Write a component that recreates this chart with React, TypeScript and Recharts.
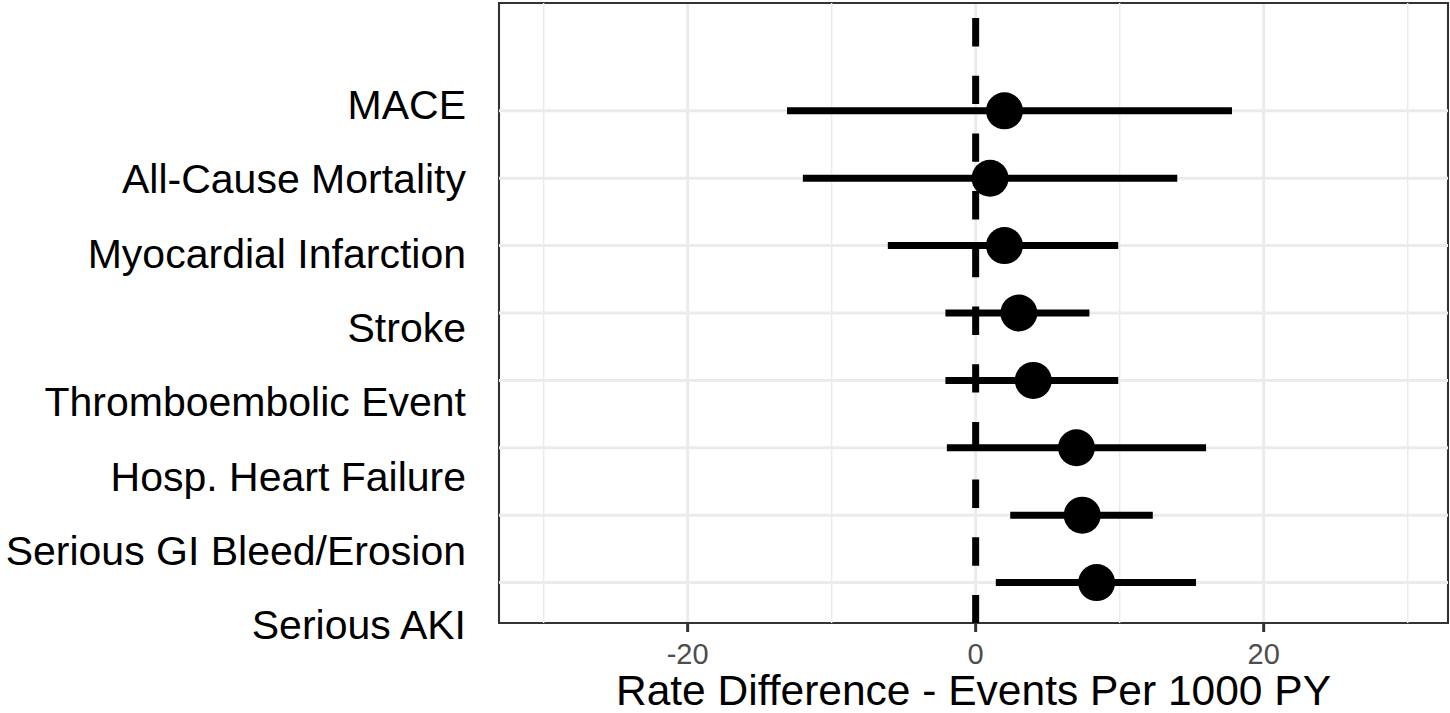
import React from 'react';
import {
  ScatterChart,
  Scatter,
  XAxis,
  YAxis,
  CartesianGrid,
  ErrorBar,
  ReferenceLine,
  ReferenceArea,
  Label,
} from 'recharts';

const outcomes = [
  'MACE',
  'All-Cause Mortality',
  'Myocardial Infarction',
  'Stroke',
  'Thromboembolic Event',
  'Hosp. Heart Failure',
  'Serious GI Bleed/Erosion',
  'Serious AKI',
];
const estimates = [2.0, 1.0, 2.0, 3.0, 4.0, 7.0, 7.4, 8.4];
const lowerCI = [-13.1, -12.0, -6.1, -2.1, -2.1, -2.0, 2.4, 1.4];
const upperCI = [17.8, 14.0, 9.9, 7.9, 9.9, 16.0, 12.3, 15.3];

const xTicks = [-20, 0, 20];
const minorXTicks = [-30, -10, 10, 30];
const rowTicks = [1, 2, 3, 4, 5, 6, 7, 8];

const X_DOMAIN: [number, number] = [-33.1, 32.8];
const Y_DOMAIN: [number, number] = [0.4, 9.6];
// labels in the original sit on a slightly wider spacing than the rows
const LABEL_DOMAIN: [number, number] = [1.024, 9.364];

const FONT = '"Liberation Sans", Arial, sans-serif';

const data = outcomes.map((name, i) => ({
  name,
  row: outcomes.length - i,
  est: estimates[i],
  ci: [estimates[i] - lowerCI[i], upperCI[i] - estimates[i]],
}));

const Dot = (props: any) => <circle cx={props.cx} cy={props.cy} r={18.5} fill="#000" />;

export default function App() {
  return (
    <div style={{ position: 'absolute', left: 0, top: 0, fontFamily: FONT }}>
      <ScatterChart width={1450} height={713} margin={{ top: 3, right: 2, left: 0, bottom: 0 }}>
        <CartesianGrid stroke="#EBEBEB" strokeWidth={3} horizontal={false} />
        {minorXTicks.map((v) => (
          <ReferenceLine key={v} x={v} stroke="#EBEBEB" strokeWidth={1.5} />
        ))}
        {rowTicks.map((v) => (
          <ReferenceLine key={'r' + v} y={v} stroke="#EBEBEB" strokeWidth={3} />
        ))}
        <XAxis
          type="number"
          dataKey="est"
          domain={X_DOMAIN}
          ticks={xTicks}
          allowDataOverflow
          axisLine={false}
          tickLine={{ stroke: '#333333', strokeWidth: 3 }}
          tickSize={9}
          tickMargin={11}
          height={90}
          tick={{ fill: '#4D4D4D', fontSize: 29, fontFamily: FONT }}
        >
          <Label
            value="Rate Difference - Events Per 1000 PY"
            position="insideBottom"
            offset={8}
            style={{ fill: '#000', fontSize: 42.5, fontFamily: FONT }}
          />
        </XAxis>
        <YAxis
          type="number"
          dataKey="row"
          domain={Y_DOMAIN}
          ticks={rowTicks}
          allowDataOverflow
          axisLine={false}
          tick={false}
          tickLine={{ stroke: '#333333', strokeWidth: 3 }}
          tickSize={10}
          width={12}
        />
        <YAxis
          yAxisId="labels"
          type="number"
          domain={LABEL_DOMAIN}
          ticks={rowTicks}
          interval={0}
          allowDataOverflow
          axisLine={false}
          tickLine={false}
          tickSize={0}
          tickMargin={21}
          width={487}
          tickFormatter={(v: number) => outcomes[outcomes.length - v]}
          tick={{ fill: '#000', fontSize: 41, fontFamily: FONT }}
        />
        <ReferenceLine
          segment={[
            { x: 0, y: Y_DOMAIN[1] },
            { x: 0, y: Y_DOMAIN[0] },
          ]}
          stroke="#000"
          strokeWidth={7}
          strokeDasharray="28.4 29.3"
          strokeDashoffset={42.7}
        />
        <Scatter data={data} shape={Dot} isAnimationActive={false}>
          <ErrorBar dataKey="ci" direction="x" width={0} stroke="#000" strokeWidth={7} />
        </Scatter>
        <ReferenceArea
          x1={X_DOMAIN[0]}
          x2={X_DOMAIN[1]}
          y1={Y_DOMAIN[0]}
          y2={Y_DOMAIN[1]}
          fill="none"
          stroke="#333333"
          strokeWidth={2}
        />
      </ScatterChart>
    </div>
  );
}
